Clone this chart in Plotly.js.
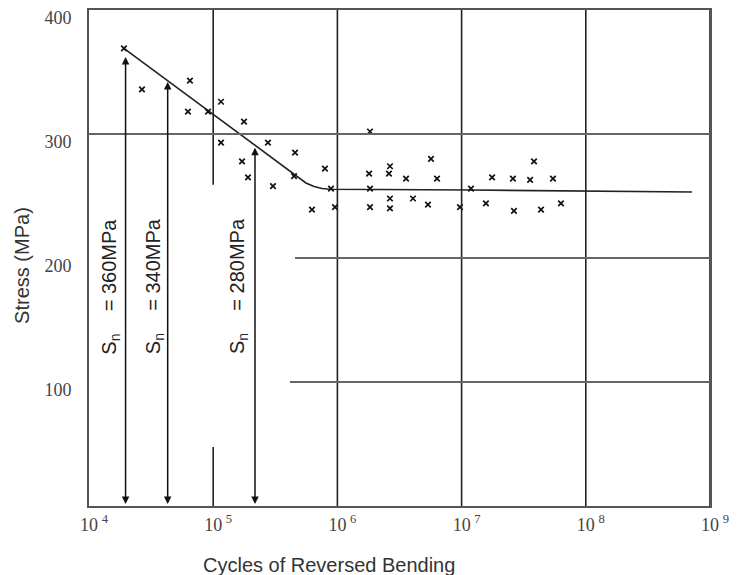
<!DOCTYPE html>
<html><head><meta charset="utf-8">
<script src="https://cdn.plot.ly/plotly-3.0.1.min.js"></script>
<style>html,body{margin:0;padding:0;background:#fff}</style>
</head><body><div id="chart" style="width:740px;height:575px"></div>
<script>
// Test data points (cycles to failure, stress MPa)
const cycles = [19100, 26700, 65000, 62600, 90800, 115600, 177000, 115600, 276000, 456000,
  170600, 190600, 303000, 447500, 794000, 624000, 956000, 888000, 1830000, 1800000,
  1830000, 1830000, 2650000, 2600000, 3570000, 5670000, 6340000, 2650000, 4060000, 2650000,
  5360000, 11900000, 9700000, 17600000, 25900000, 35600000, 38300000, 54400000, 15700000, 26400000,
  43600000, 63100000];
const stress = [369, 336, 343, 318, 318, 326, 310, 293, 293, 285,
  278, 265, 258, 266, 272, 239, 241, 256, 302, 268,
  256, 241, 274, 268, 264, 280, 264, 248, 248, 240,
  243, 256, 241, 265, 264, 263, 278, 264, 244, 238,
  239, 244];
// S-N curve
const curveCycles = [19100, 415000, 482000, 558000, 649000, 752000, 871000, 11900000, 716000000];
const curveStress = [369, 269.4, 264.5, 260.5, 257.7, 256.0, 255.4, 254.8, 253.2];
// Double arrows and their labels
const arrowCycles = [19700, 43000, 217000];
const arrowStress = [362, 342, 289];
const arrowLabels = ['360MPa', '340MPa', '280MPa'];
const labelCycles = [14800, 33800, 160000];
const labelStress = 177;
// Axis ticks
const xTickVals = [1e4, 1e5, 1e6, 1e7, 1e8, 1e9];
const xTickText = ['4', '5', '6', '7', '8', '9'].map(e => '10\u2009<sup>' + e + '</sup>');
const yTickVals = [100, 200, 300, 400];
const yTickText = ['100', '200', '300', '400'];
// Grid segments (some are partial in the original figure)
const vGridX = [1e5, 1e5, 1e6, 1e7, 1e8, 1e9];
const vGridFrom = [259, 0, 0, 0, 0, 0];
const vGridTo = [400, 47.6, 400, 400, 400, 400];
const hGridY = [300, 200, 100];
const hGridFrom = [1e4, 456000, 415000];
const hGridTo = [1e9, 1e9, 1e9];

const shapes = [];
vGridX.forEach((x, i) => shapes.push({type: 'line', xref: 'x', yref: 'y', x0: x, x1: x,
  y0: vGridFrom[i], y1: vGridTo[i], line: {color: '#222', width: 1.6}}));
hGridY.forEach((y, i) => shapes.push({type: 'line', xref: 'x', yref: 'y', x0: hGridFrom[i], x1: hGridTo[i],
  y0: y, y1: y, line: {color: '#666', width: 2}}));

const annotations = [];
arrowCycles.forEach((c, i) => {
  const lx = Math.log10(c);
  annotations.push({x: lx, y: arrowStress[i], ax: lx, ay: 0.5, xref: 'x', yref: 'y', axref: 'x', ayref: 'y',
    text: '', showarrow: true, arrowhead: 2, startarrowhead: 2, arrowside: 'end+start',
    arrowsize: 1, startarrowsize: 1, arrowwidth: 1.5, arrowcolor: '#111', standoff: 0, startstandoff: 0});
  annotations.push({x: Math.log10(labelCycles[i]), y: labelStress, xref: 'x', yref: 'y',
    xanchor: 'center', yanchor: 'middle',
    text: 'S<sub>n</sub>\u00a0\u00a0\u00a0\u00a0= ' + arrowLabels[i], showarrow: false, textangle: -90,
    font: {family: 'Liberation Sans, Arial, sans-serif', size: 20, color: '#222'}});
});
annotations.push({xref: 'paper', yref: 'paper', x: 0.3865, y: -0.119, xanchor: 'center', yanchor: 'middle',
  text: 'Cycles of Reversed Bending',
  showarrow: false, font: {family: 'Liberation Sans, Arial, sans-serif', size: 20, color: '#333'}});
annotations.push({xref: 'paper', yref: 'paper', x: -0.108, y: 0.486, xanchor: 'center', yanchor: 'middle',
  text: 'Stress (MPa)', textangle: -90,
  showarrow: false, font: {family: 'Liberation Sans, Arial, sans-serif', size: 20, color: '#333'}});

const traces = [
  {x: curveCycles, y: curveStress, type: 'scatter', mode: 'lines', line: {color: '#222', width: 1.6},
    hoverinfo: 'skip'},
  {x: cycles, y: stress, type: 'scatter', mode: 'markers',
    marker: {symbol: 'x-thin', size: 5.5, color: '#111', line: {color: '#111', width: 1.7}}}
];

const layout = {
  width: 740, height: 575,
  margin: {l: 89, r: 30, t: 10, b: 69},
  paper_bgcolor: '#fff', plot_bgcolor: '#fff',
  showlegend: false,
  xaxis: {type: 'log', range: [4, 9], tickvals: xTickVals, ticktext: xTickText, showgrid: false, zeroline: false,
    showline: true, mirror: true, linecolor: '#555', linewidth: 2, ticks: '', ticklabelshift: 5, ticklabelstandoff: 1,
    tickfont: {family: 'Liberation Serif, Times New Roman, serif', size: 18, color: '#444'}},
  yaxis: {range: [0, 400], tickvals: yTickVals, ticktext: yTickText, showgrid: false, zeroline: false,
    showline: true, mirror: true, linecolor: '#555', linewidth: 2, ticks: '', ticklabelshift: 8, ticklabelstandoff: 12,
    tickfont: {family: 'Liberation Serif, Times New Roman, serif', size: 18, color: '#444'}},
  shapes: shapes,
  annotations: annotations
};
Plotly.newPlot('chart', traces, layout, {staticPlot: true, displayModeBar: false});
</script></body></html>
